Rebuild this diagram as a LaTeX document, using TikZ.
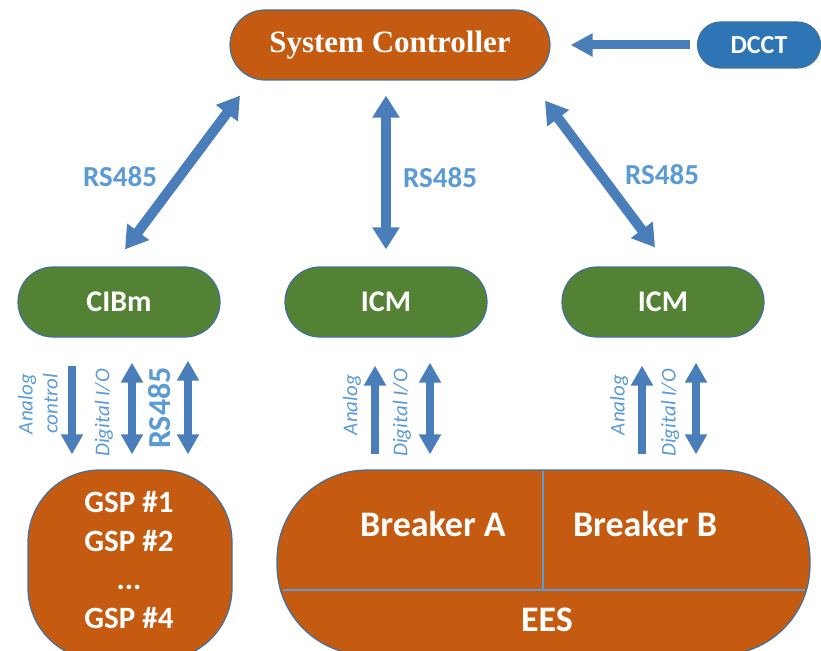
\documentclass[tikz,border=0pt]{standalone}
\usepackage{fontspec}
\setmainfont{Carlito}
\newfontfamily\scfont{Liberation Serif}
\usetikzlibrary{arrows.meta,positioning}
\definecolor{boxorange}{HTML}{C55A11}
\definecolor{boxgreen}{HTML}{548235}
\definecolor{boxblue}{HTML}{2E75B6}
\definecolor{edgeblue}{HTML}{41719C}
\definecolor{arrowblue}{HTML}{4A7EBB}
\definecolor{labelblue}{HTML}{5B9BD5}

\begin{document}
\begin{tikzpicture}[x=1pt,y=-1pt,
    every node/.style={inner sep=0pt},
    pill/.style={draw=edgeblue, line width=1.2pt, text=white, font=\bfseries},
    ctrl/.style={pill, fill=boxgreen, minimum width=202pt, minimum height=70pt, rounded corners=35pt, font=\fontsize{30}{34}\selectfont\bfseries},
    bigarrow/.style={line width=10pt, arrowblue, {Triangle[length=22pt,width=26pt]}-{Triangle[length=22pt,width=26pt]}},
    smallarrow/.style={line width=8pt, arrowblue, -{Triangle[length=20pt,width=21pt]}},
    smalldbl/.style={line width=8pt, arrowblue, {Triangle[length=20pt,width=21pt]}-{Triangle[length=20pt,width=21pt]}},
    buslabel/.style={text=labelblue, font=\fontsize{29}{32}\selectfont\bfseries},
    siglabel/.style={text=labelblue, rotate=90, align=center, font=\fontsize{21}{25}\selectfont\itshape},
    boxtext/.style={text=white, font=\fontsize{36}{40}\selectfont\bfseries}]
  \useasboundingbox (0,0) rectangle (821,650);
  \clip (0,0) rectangle (821,650);

  \node[pill, fill=boxorange, minimum width=320pt, minimum height=70pt, rounded corners=35pt,
        font=\fontsize{31}{34}\selectfont\scfont\bfseries] (sc) at (390,45) {System Controller};
  \node[pill, fill=boxblue, minimum width=123pt, minimum height=46pt, rounded corners=23pt,
        font=\fontsize{26}{30}\selectfont\bfseries] (dcct) at (759,45) {DCCT};

  \node[ctrl] (cibm) at (119,302) {CIBm};
  \node[ctrl] (icma) at (386,302) {ICM};
  \node[ctrl] (icmb) at (663,302) {ICM};

  \node[pill, fill=boxorange, minimum width=204pt, minimum height=190pt, rounded corners=72pt] (gsp) at (130,565) {};
  \node[text=white, align=center, font=\fontsize{31}{38.5}\selectfont\bfseries] (gsplist) at (129,560)
        {GSP \#1\\GSP \#2\\...\\GSP \#4};

  \node[pill, fill=boxorange, minimum width=533pt, minimum height=185pt, rounded corners=90pt] (brk) at (543.5,562.5) {};
  \draw[labelblue, line width=2pt] (282.5,590) -- (804.5,590);
  \draw[labelblue, line width=2pt] (543,471) -- (543,590);
  \node[boxtext] (brka) at (433,524) {Breaker A};
  \node[boxtext] (brkb) at (645,524) {Breaker B};
  \node[boxtext] (ees) at (547,620) {EES};

  \draw[line width=9pt, arrowblue, -{Triangle[length=22pt,width=22pt]}, shorten <=7pt, shorten >=20pt] (dcct.west) -- (sc.east);

  \draw[bigarrow] ([xshift=-150pt,yshift=-15pt]sc.south) -- ([xshift=6pt,yshift=17pt]cibm.north);
  \draw[bigarrow] ([xshift=-4pt,yshift=-15pt]sc.south) -- ([yshift=17pt]icma.north);
  \draw[bigarrow] ([xshift=155pt,yshift=-20pt]sc.south) -- ([xshift=-8pt,yshift=19pt]icmb.north);

  \node[buslabel] (rsa) at (120,177) {RS485};
  \node[buslabel] (rsb) at (440,178) {RS485};
  \node[buslabel] (rsc) at (662,175) {RS485};

  \draw[smallarrow] ([xshift=-47pt,yshift=-28pt]cibm.south) -- ([xshift=-58pt,yshift=15pt]gsp.north);
  \draw[smalldbl] ([xshift=13pt,yshift=-25pt]cibm.south) -- ([xshift=2pt,yshift=15pt]gsp.north);
  \draw[smalldbl] ([xshift=69pt,yshift=-23pt]cibm.south) -- ([xshift=58pt,yshift=15pt]gsp.north);
  \node[siglabel] (anl) at (38,404) {Analog\\control};
  \node[siglabel] (dgl) at (104,413) {Digital I/O};
  \node[buslabel, rotate=90, font=\fontsize{32}{36}\selectfont\bfseries] (rsd) at (160,408) {RS485};

  \draw[smallarrow] ([xshift=-11pt,yshift=15pt]brk.north -| icma.south) -- ([xshift=-11pt,yshift=-28pt]icma.south);
  \draw[smalldbl] ([xshift=44pt,yshift=-25pt]icma.south) -- ([xshift=44pt,yshift=15pt]brk.north -| icma.south);
  \node[siglabel] (anm) at (352,405) {Analog};
  \node[siglabel] (dgm) at (402,413) {Digital I/O};

  \draw[smallarrow] ([xshift=-21pt,yshift=15pt]brk.north -| icmb.south) -- ([xshift=-21pt,yshift=-28pt]icmb.south);
  \draw[smalldbl] ([xshift=33pt,yshift=-25pt]icmb.south) -- ([xshift=33pt,yshift=15pt]brk.north -| icmb.south);
  \node[siglabel] (anr) at (619,405) {Analog};
  \node[siglabel] (dgr) at (670,413) {Digital I/O};
\end{tikzpicture}
\end{document}
